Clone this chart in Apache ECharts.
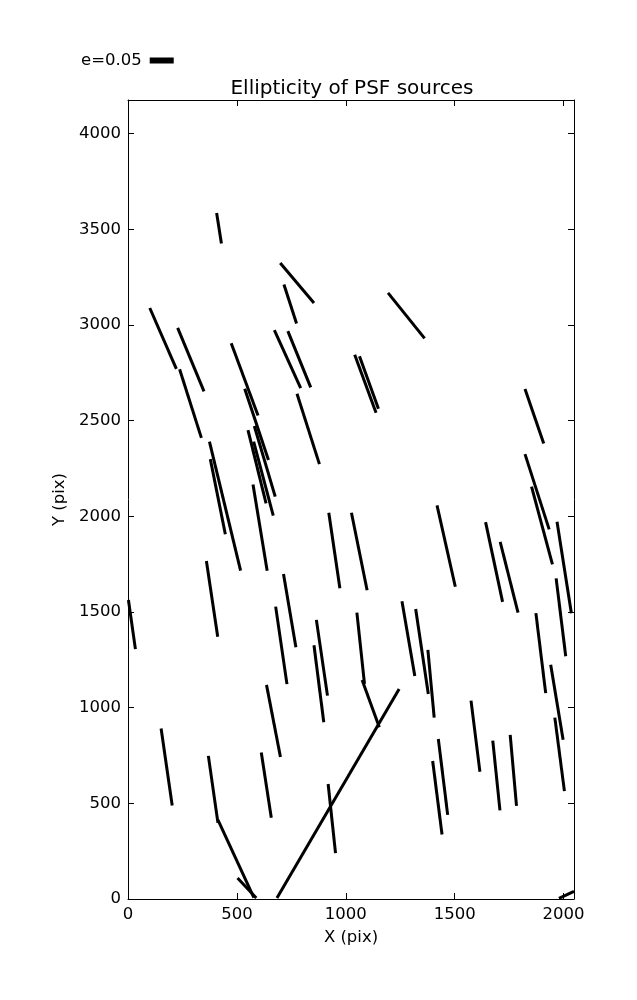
<!DOCTYPE html>
<html>
<head>
<meta charset="utf-8">
<script src="https://cdn.jsdelivr.net/npm/echarts@6/dist/echarts.min.js"></script>
<style>
html,body{margin:0;padding:0;background:#fff;}
#chart{width:637px;height:1000px;}
</style>
</head>
<body>
<div id="chart"></div>
<script>
// Whisker segments (data units, pix): start and end points
var xStart = [407, 699, 716, 100, 228, 672, 734, 237, 474, 776, 1041, 1063, 1194, 1823,
  374, 378, 574, 536, 580, 551, 577, 922, 360, 714, 678, 865, 854, 2, 1026, 1419, 1823, 1853,
  1970, 1642, 1709, 1051, 1258, 1321, 1377, 1873, 1966, 636, 152, 369, 413, 503, 612, 919,
  684, 1075, 1575, 1425, 1399, 1675, 1755, 1941, 1960, 1979];
var yStart = [3585, 3324, 3212, 3089, 2985, 2973, 2968, 2769, 2905, 2641, 2844, 2837, 3168, 2665,
  2390, 2299, 2167, 2667, 2472, 2451, 2390, 2019, 1767, 1699, 1528, 1459, 1326, 1563, 2019, 2057, 2325, 2155,
  1972, 1970, 1867, 1497, 1556, 1516, 1302, 1494, 1676, 1119, 891, 748, 414, 110, 766, 601,
  5, 1145, 1037, 836, 721, 828, 858, 1224, 948, 3];
var xEnd = [429, 854, 774, 222, 349, 793, 839, 337, 597, 879, 1139, 1150, 1362, 1909,
  517, 447, 639, 645, 676, 634, 667, 973, 412, 771, 730, 916, 899, 34, 1098, 1503, 1934, 1949,
  2036, 1720, 1791, 1086, 1317, 1379, 1406, 1918, 2010, 700, 203, 413, 578, 589, 658, 953,
  1245, 1154, 1616, 1468, 1442, 1708, 1784, 1998, 2004, 2048];
var yEnd = [3426, 3115, 3008, 2771, 2653, 2670, 2674, 2410, 2527, 2273, 2541, 2562, 2930, 2381,
  1716, 1906, 1716, 2294, 2103, 2068, 2004, 1624, 1371, 1316, 1123, 1063, 924, 1306, 1614, 1632, 1932, 1749,
  1494, 1553, 1497, 1124, 1166, 1071, 948, 1076, 1269, 742, 489, 398, 7, 5, 425, 240,
  1097, 898, 665, 440, 337, 463, 487, 832, 564, 40];

var xRange = [0, 2048];
var yRange = [0, 4176];
var tickStep = 500;
var titleText = 'Ellipticity of PSF sources';
var legendText = 'e=0.05';
var xName = 'X (pix)';
var yName = 'Y (pix)';

var segs = xStart.map(function (x, i) {
  return { coords: [[x, yStart[i]], [xEnd[i], yEnd[i]]] };
});

var FONT = 'DejaVu Sans';
var chart = echarts.init(document.getElementById('chart'), null, { renderer: 'canvas' });

function plain(v) { return String(v); }

function baseAxis(extra) {
  return Object.assign({
    type: 'value',
    interval: tickStep,
    splitLine: { show: false },
    axisLine: { show: true, onZero: false, lineStyle: { color: '#000', width: 1 } },
    axisTick: { show: true, inside: true, length: 6, lineStyle: { color: '#000', width: 1 } },
    axisLabel: { show: true, color: '#000', fontFamily: FONT, fontSize: 16.5, margin: 7,
      showMaxLabel: false, formatter: plain }
  }, extra);
}

chart.setOption({
  animation: false,
  backgroundColor: '#fff',
  title: {
    text: titleText,
    left: 347, textAlign: 'center',
    top: 74,
    textStyle: { color: '#000', fontFamily: FONT, fontSize: 20, fontWeight: 'normal' }
  },
  legend: {
    left: 76, top: 47,
    align: 'right',
    itemWidth: 22, itemHeight: 4,
    data: [{ name: legendText, icon: 'rect' }],
    textStyle: { color: '#000', fontFamily: FONT, fontSize: 16.5, padding: [0, 4, 0, 0] }
  },
  grid: { left: 128, right: 63, top: 100, bottom: 101, containLabel: false },
  xAxis: [
    baseAxis({ min: xRange[0], max: xRange[1], position: 'bottom',
      name: xName, nameLocation: 'middle', nameGap: 30,
      nameTextStyle: { color: '#000', fontFamily: FONT, fontSize: 16.5 } }),
    baseAxis({ min: xRange[0], max: xRange[1], position: 'top', axisLabel: { show: false } })
  ],
  yAxis: [
    baseAxis({ min: yRange[0], max: yRange[1], position: 'left',
      name: yName, nameLocation: 'middle', nameGap: 44,
      nameTextStyle: { color: '#000', fontFamily: FONT, fontSize: 16.5 } }),
    baseAxis({ min: yRange[0], max: yRange[1], position: 'right', axisLabel: { show: false } })
  ],
  series: [{
    name: legendText,
    type: 'lines',
    coordinateSystem: 'cartesian2d',
    xAxisIndex: 0, yAxisIndex: 0,
    polyline: false,
    silent: true,
    lineStyle: { color: '#000', width: 3, opacity: 1, curveness: 0, cap: 'butt' },
    itemStyle: { color: '#000' },
    data: segs
  }]
});
</script>
</body>
</html>
